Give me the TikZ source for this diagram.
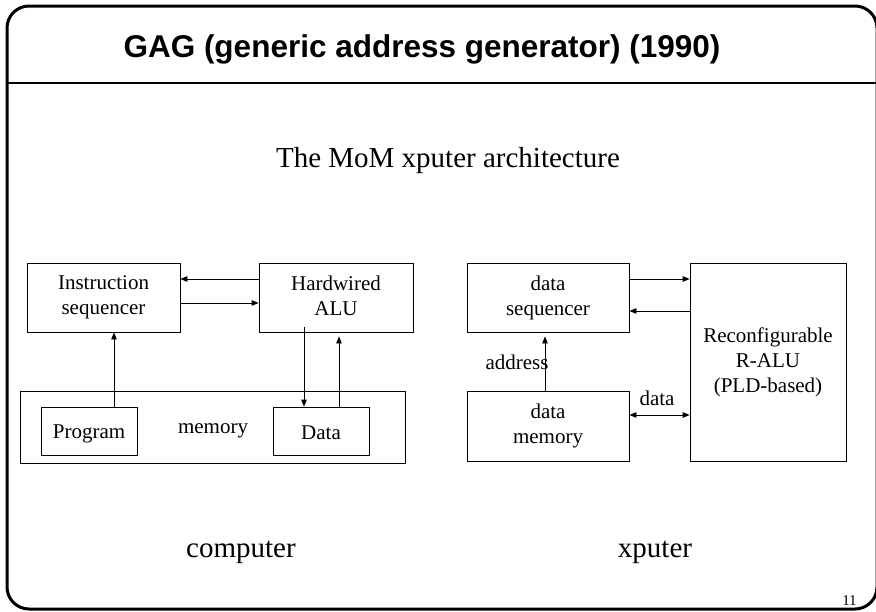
\documentclass[tikz,border=0pt]{standalone}
\usepackage{fontspec}
\setmainfont{Liberation Serif}
\newfontfamily\headfont{Liberation Sans}
\usetikzlibrary{arrows.meta}
\newcommand\topstrut{\rule{0pt}{20.5pt}}
\newcommand\botstrut{\rule[-4.5pt]{0pt}{4.5pt}}
\begin{document}
\begin{tikzpicture}[x=1pt,y=-1pt,
  box/.style={draw, line width=0.8pt, inner sep=0pt, align=center,
              font=\fontsize{21}{25}\selectfont,
              execute at begin node=\topstrut, execute at end node=\botstrut},
  lbl/.style={inner sep=0pt, align=center, font=\fontsize{21}{25}\selectfont},
  tip/.tip={Triangle[length=7pt,width=5.5pt]},
  arr/.style={line width=0.8pt, -tip},
  darr/.style={line width=0.8pt, tip-tip},
  big/.style={inner sep=0pt, anchor=base, font=\fontsize{29}{34}\selectfont}]
\useasboundingbox (0,0) rectangle (876,611);

% slide frame and title bar
\draw[line width=3pt, rounded corners=22pt] (7,6) rectangle (877,609);
\draw[line width=2pt] (7,83) -- (877,83);
\node[inner sep=0pt, anchor=base] (title) at (422,57)
  {\headfont\bfseries\fontsize{31.5}{36}\selectfont GAG (generic address generator) (1990)};
\node[big] (sub) at (448,167) {The MoM xputer architecture};

% ---- conventional computer ----
\node[box, minimum width=153pt, minimum height=69pt] (iseq) at (103.5,297.5) {Instruction\\sequencer};
\node[box, minimum width=154pt, minimum height=69pt] (alu) at (336,297.5) {Hardwired\\ALU};
\node[box, minimum width=385pt, minimum height=72pt] (mem) at (212.5,427) {};
\node[box, minimum width=96pt, minimum height=48pt] (prog) at (89,431) {Program};
\node[box, minimum width=96pt, minimum height=48pt] (data) at (321,431) {Data};
\node[lbl] (memlbl) at (213,431) {memory};

\draw[arr] ([yshift=18.5pt]alu.west) -- ([yshift=18.5pt]iseq.east);
\draw[arr] ([yshift=-5.5pt]iseq.east) -- ([yshift=-5.5pt]alu.west);
\coordinate (pa) at ([xshift=25pt]prog.north);
\draw[arr] (pa) -- (pa |- iseq.south);
\coordinate (da) at ([xshift=-32pt,yshift=5pt]alu.south);
\draw[arr] (da) -- (da |- data.north);
\coordinate (ua) at ([xshift=18pt]data.north);
\draw[arr] (ua) -- ([yshift=-4pt]ua |- alu.south);

% ---- xputer ----
\node[box, minimum width=162pt, minimum height=69pt] (dseq) at (548,297.5) {data\\sequencer};
\node[box, minimum width=162pt, minimum height=70pt] (dmem) at (548,426) {data\\memory};
\node[box, minimum width=156pt, minimum height=198pt] (ralu) at (768,362) {Reconfigurable\\R-ALU\\(PLD-based)};

\coordinate (s1) at ([yshift=18.5pt]dseq.east);
\draw[arr] (s1) -- (s1 -| ralu.west);
\coordinate (s2) at ([yshift=-13.5pt]dseq.east);
\draw[arr] (s2 -| ralu.west) -- (s2);
\coordinate (ad) at ([xshift=-3pt]dmem.north);
\draw[arr] (ad) -- ([yshift=-4pt]ad |- dseq.south);
\node[lbl] (addr) at (517,362) {address};
\coordinate (dd) at ([yshift=11pt]dmem.east);
\draw[darr] (dd) -- (dd -| ralu.west);
\node[lbl] (dlbl) at (657,398) {data};

% captions
\node[big] (cap1) at (241,557) {computer};
\node[big] (cap2) at (655,557) {xputer};
\node[inner sep=0pt, anchor=base, font=\fontsize{15}{18}\selectfont] (pg) at (849.5,605) {11};
\end{tikzpicture}
\end{document}
